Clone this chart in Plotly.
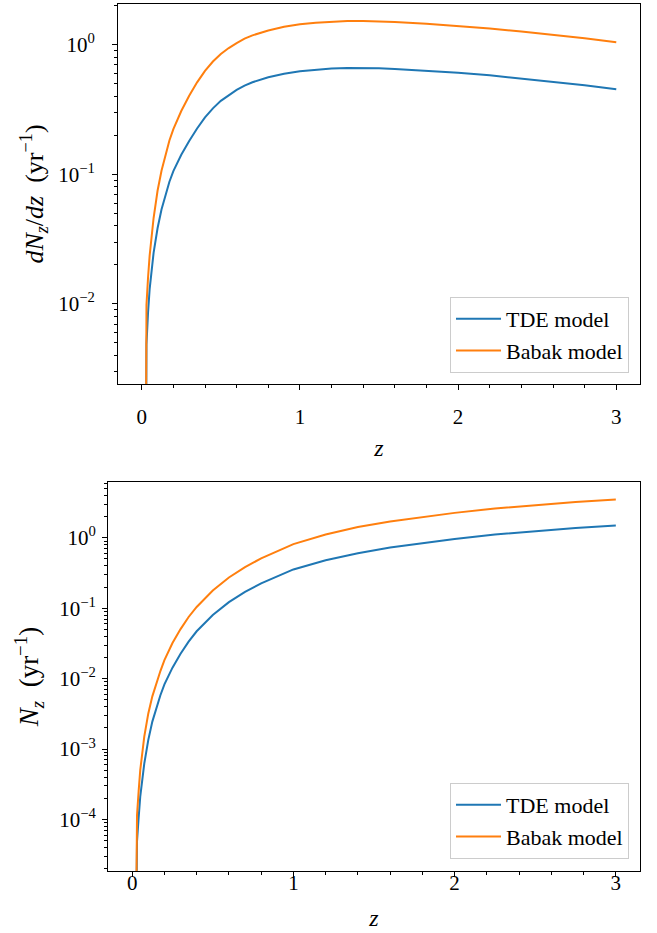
import numpy as np
import plotly.graph_objects as go

# ---- data (1e-12 stands in for the zero value at z = 0,
#      which a log axis cannot show, so the curve drops to the axis bottom) ----
z_rate = [0.0, 0.025, 0.03, 0.04, 0.05, 0.075, 0.1, 0.125, 0.15, 0.175, 0.2, 0.25, 0.3,
          0.35, 0.4, 0.45, 0.5, 0.55, 0.6, 0.65, 0.7, 0.8, 0.9, 1.0, 1.1, 1.2, 1.3, 1.4,
          1.5, 1.6, 1.8, 2.0, 2.2, 2.4, 2.6, 2.8, 3.0]
tde_rate = [1e-12, 0.0033, 0.0049, 0.0086, 0.0130, 0.0248, 0.0384, 0.0536, 0.0702, 0.0879,
            0.106, 0.142, 0.181, 0.2265, 0.2754, 0.3236, 0.370, 0.411, 0.449, 0.485, 0.515,
            0.562, 0.600, 0.627, 0.646, 0.658, 0.664, 0.665, 0.660, 0.653, 0.634, 0.611,
            0.582, 0.551, 0.520, 0.489, 0.455]
babak_rate = [1e-12, 0.0072, 0.0098, 0.0160, 0.0236, 0.0461, 0.0748, 0.1069, 0.1432, 0.1828,
              0.2239, 0.309, 0.4055, 0.514, 0.631, 0.745, 0.851, 0.946, 1.033, 1.117, 1.186,
              1.294, 1.380, 1.442, 1.486, 1.514, 1.528, 1.531, 1.524, 1.503, 1.459, 1.406,
              1.340, 1.268, 1.197, 1.125, 1.047]

z_cum = [0.0, 0.025, 0.03, 0.04, 0.05, 0.075, 0.1, 0.125, 0.15, 0.175, 0.2, 0.25, 0.3, 0.35,
         0.4, 0.45, 0.5, 0.6, 0.7, 0.8, 0.9, 1.0, 1.2, 1.4, 1.6, 1.8, 2.0, 2.25, 2.5, 2.75, 3.0]
tde_cum = [1e-12, 3.3e-5, 4.9e-5, 1.05e-4, 2.1e-4, 6.2e-4, 1.35e-3, 2.45e-3, 3.85e-3, 5.8e-3,
           8.3e-3, 0.0143, 0.0225, 0.0335, 0.047, 0.062, 0.080, 0.122, 0.170, 0.2254, 0.2858,
           0.355, 0.481, 0.605, 0.728, 0.847, 0.964, 1.113, 1.252, 1.380, 1.496]
babak_cum = [1e-12, 7.0e-5, 1.15e-4, 2.5e-4, 5.0e-4, 1.5e-3, 3.2e-3, 5.6e-3, 8.6e-3, 0.0128,
             0.0183, 0.032, 0.0505, 0.075, 0.104, 0.138, 0.178, 0.2729, 0.3828, 0.5105, 0.650,
             0.8128, 1.114, 1.419, 1.706, 1.986, 2.259, 2.609, 2.935, 3.236, 3.508]

x_ticks = [0, 1, 2, 3]
top_yticks = [1e-2, 1e-1, 1e0]
top_yticktext = ["10<sup>−2</sup>", "10<sup>−1</sup>", "10<sup>0</sup>"]
bot_yticks = [1e-4, 1e-3, 1e-2, 1e-1, 1e0]
bot_yticktext = ["10<sup>−4</sup>", "10<sup>−3</sup>", "10<sup>−2</sup>",
                 "10<sup>−1</sup>", "10<sup>0</sup>"]

BLUE = "#1f77b4"
ORANGE = "#ff7f0e"
FONT = "Liberation Serif, DejaVu Serif, serif"

fig = go.Figure()
fig.add_trace(go.Scatter(x=z_rate, y=tde_rate, mode="lines", name="TDE model",
                         line=dict(color=BLUE, width=2),
                         xaxis="x", yaxis="y", legend="legend"))
fig.add_trace(go.Scatter(x=z_rate, y=babak_rate, mode="lines", name="Babak model",
                         line=dict(color=ORANGE, width=2),
                         xaxis="x", yaxis="y", legend="legend"))
fig.add_trace(go.Scatter(x=z_cum, y=tde_cum, mode="lines", name="TDE model",
                         line=dict(color=BLUE, width=2),
                         xaxis="x2", yaxis="y2", legend="legend2"))
fig.add_trace(go.Scatter(x=z_cum, y=babak_cum, mode="lines", name="Babak model",
                         line=dict(color=ORANGE, width=2),
                         xaxis="x2", yaxis="y2", legend="legend2"))


def minor_vals(lo, hi):
    vals = []
    for e in range(lo, hi + 1):
        for m in range(2, 10):
            vals.append(m * 10.0 ** e)
    return vals


W, H = 657, 933
TICKFONT = dict(family=FONT, size=21, color="black")
common_x = dict(range=[-0.15, 3.15], tickvals=x_ticks, ticks="outside", ticklen=5,
                tickwidth=1, tickcolor="black", showline=True, linecolor="black",
                linewidth=1, mirror=True, showgrid=False, zeroline=False,
                tickfont=TICKFONT,
                minor=dict(dtick=0.2, tick0=0, ticks="outside", ticklen=3,
                           tickwidth=0.8, tickcolor="black"))
common_y = dict(type="log", ticks="outside", ticklen=5, tickwidth=1, tickcolor="black",
                showline=True, linecolor="black", linewidth=1, mirror=True,
                showgrid=False, zeroline=False, tickfont=TICKFONT)

legend_style = dict(xanchor="right", yanchor="bottom", itemwidth=45,
                    bgcolor="rgba(255,255,255,0.8)", bordercolor="#cccccc", borderwidth=1,
                    font=dict(family=FONT, size=22, color="black"))

fig.update_layout(
    width=W, height=H,
    margin=dict(l=0, r=0, t=0, b=0),
    paper_bgcolor="white", plot_bgcolor="white",
    font=dict(family=FONT, size=21, color="black"),
    xaxis=dict(common_x, domain=[118 / W, 640 / W], anchor="y",
               title=dict(text="<i>z</i>", font=dict(family=FONT, size=24), standoff=10),
               ticklabelstandoff=9),
    yaxis=dict(common_y, domain=[1 - 384 / H, 1 - 4 / H], anchor="x",
               range=[np.log10(0.00241), np.log10(2.07)],
               tickvals=top_yticks, ticktext=top_yticktext, ticklabelstandoff=13,
               minor=dict(tickvals=minor_vals(-3, 0), ticks="outside", ticklen=3,
                          tickwidth=0.8, tickcolor="black"),
               title=dict(text="<i>dN<sub>z</sub></i>/<i>dz</i>\u2002(yr<sup>−1</sup>)",
                          font=dict(family=FONT, size=26), standoff=7)),
    xaxis2=dict(common_x, domain=[108 / W, 640 / W], anchor="y2",
                title=dict(text="<i>z</i>", font=dict(family=FONT, size=24), standoff=14),
                ticklabelstandoff=-12),
    yaxis2=dict(common_y, domain=[1 - 871 / H, 1 - 482 / H], anchor="x2",
                range=[np.log10(1.85e-5), np.log10(6.2)],
                tickvals=bot_yticks, ticktext=bot_yticktext, ticklabelstandoff=2,
                minor=dict(tickvals=minor_vals(-5, 0), ticks="outside", ticklen=3,
                           tickwidth=0.8, tickcolor="black"),
                title=dict(text="<i>N<sub>z</sub></i>\u2002(yr<sup>−1</sup>)",
                           font=dict(family=FONT, size=27), standoff=12)),
    legend=dict(legend_style, x=629 / W, y=1 - 373 / H),
    legend2=dict(legend_style, x=629 / W, y=1 - 859 / H),
)

fig.write_html("out.html", config={"displayModeBar": False},
               post_script="document.body.style.margin='0';"
                           "document.body.style.overflow='hidden';")
